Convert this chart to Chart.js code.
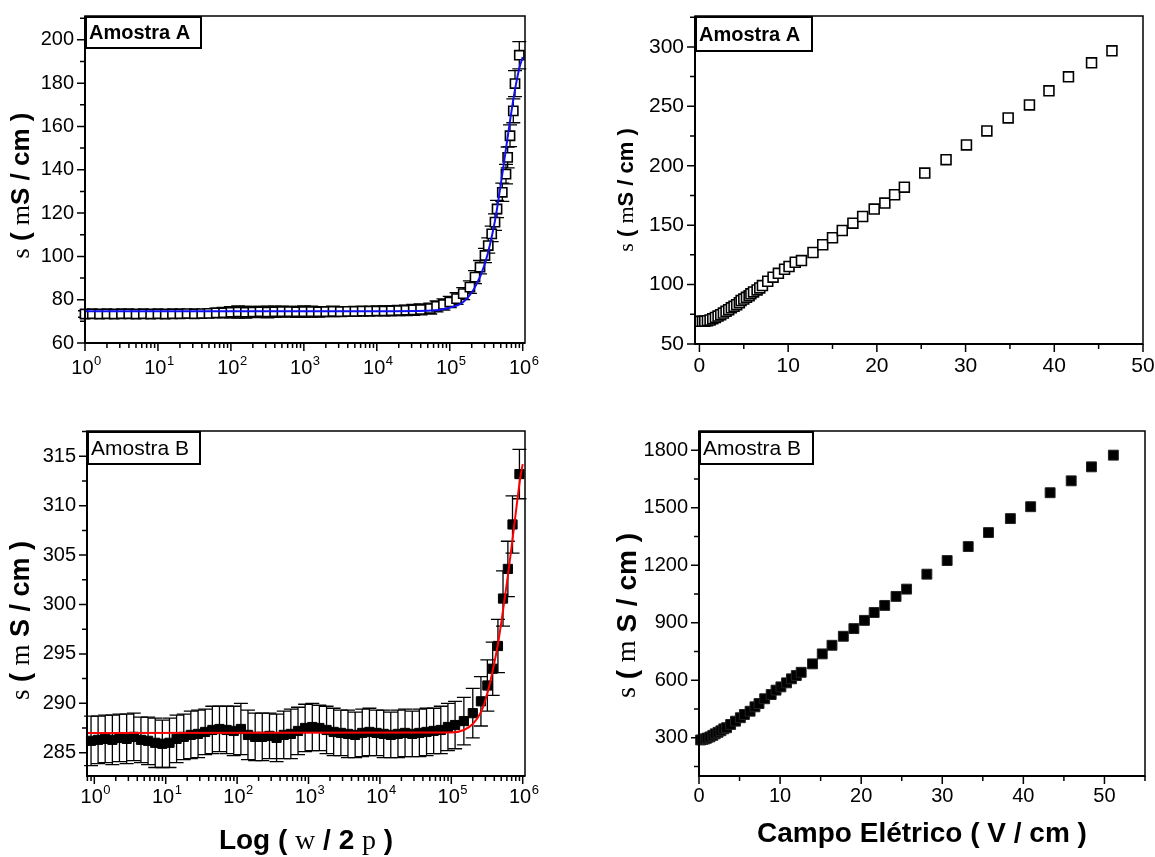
<!DOCTYPE html>
<html>
<head>
<meta charset="utf-8">
<script src="https://cdn.jsdelivr.net/npm/chart.js@4.4.1/dist/chart.umd.min.js"></script>
<style>
  body { margin: 0; background: #fff; width: 1155px; height: 857px; overflow: hidden; position: relative; }
  canvas { position: absolute; }
</style>
</head>
<body>
<canvas id="c1" width="560" height="420" style="left:0;top:0"></canvas>
<canvas id="c2" width="595" height="420" style="left:560px;top:0"></canvas>
<canvas id="c3" width="560" height="437" style="left:0;top:420px"></canvas>
<canvas id="c4" width="595" height="437" style="left:560px;top:420px"></canvas>
<script>
// Amostra A, conductivity vs frequency (Hz)
const freqA = [1, 1.26, 1.58, 2, 2.51, 3.16, 3.98, 5.01, 6.31, 7.94,
  10, 12.6, 15.8, 20, 25.1, 31.6, 39.8, 50.1, 63.1, 79.4,
  100, 126, 158, 200, 251, 316, 398, 501, 631, 794,
  1000, 1260, 1580, 2000, 2510, 3160, 3980, 5010, 6310, 7940,
  10000, 12600, 15800, 20000, 25100, 31600, 39800,
  54000, 66000, 82000, 100000, 124000, 153000, 189000, 222000, 260000, 304000,
  337000, 376000, 417000, 445000, 525000, 590000, 622000, 670000, 743000, 784000, 898000];
const sigmaA = [73.4, 73.5, 73.4, 73.5, 73.4, 73.5, 73.5, 73.4, 73.5, 73.4,
  73.5, 73.4, 73.5, 73.5, 73.6, 73.5, 73.6, 73.7, 73.9, 74.0,
  74.2, 74.3, 74.2, 74.3, 74.4, 74.3, 74.4, 74.5, 74.5, 74.4,
  74.5, 74.5, 74.4, 74.5, 74.6, 74.5, 74.6, 74.6, 74.7, 74.7,
  74.8, 74.8, 74.9, 75.0, 75.1, 75.3, 75.5,
  75.9, 76.9, 77.8, 78.9, 80.5, 82.8, 85.8, 90.4, 95.0, 100.4,
  105.0, 110.4, 115.8, 121.9, 129.6, 138.0, 145.7, 155.7, 167.2, 179.8, 192.9];
const errA = [1.5, 1.4, 1.5, 1.6, 1.5, 1.4, 1.5, 1.6, 1.5, 1.5,
  1.6, 1.5, 1.4, 1.5, 1.6, 1.7, 1.8, 2.0, 2.2, 2.4,
  2.6, 2.8, 2.7, 2.6, 2.5, 2.7, 2.6, 2.5, 2.4, 2.5,
  2.6, 2.5, 2.4, 2.3, 2.4, 2.3, 2.2, 2.3, 2.2, 2.2,
  2.2, 2.3, 2.3, 2.4, 2.4, 2.5, 2.5,
  2.5, 2.5, 2.6, 2.6, 2.7, 2.8, 2.9, 3.0, 3.1, 3.3,
  3.5, 3.6, 3.8, 4.0, 4.2, 4.5, 4.8, 5.0, 5.5, 6.0, 6.3];
const fitFreqA = [1, 10000, 50000, 100000, 153000, 222000, 304000, 417000, 525000, 670000, 784000, 900000, 1000000];
const fitSigmaA = [74.7, 74.7, 74.9, 76.3, 78.9, 85.8, 96.7, 116.5, 138.0, 162.6, 177.0, 187.0, 192.0];

// Amostra B, conductivity vs frequency (Hz)
const freqB = [0.9, 1.13, 1.42, 1.79, 2.25, 2.84, 3.57, 4.5, 5.66, 7.13, 8.97,
  11.3, 14.2, 17.9, 22.5, 28.4, 35.7, 45, 56.6, 71.3, 89.7,
  113, 142, 179, 225, 284, 357, 450, 566, 713, 897,
  1130, 1420, 1790, 2250, 2840, 3570, 4500, 5660, 7130, 8970,
  11300, 14200, 17900, 22500, 28400, 35700, 45000, 56600, 71300, 89700,
  113000, 150000, 200000, 260000, 320000, 380000, 450000, 530000, 620000, 720000, 900000];
const sigmaB = [286.2, 286.3, 286.4, 286.3, 286.5, 286.4, 286.6, 286.3, 286.2, 286.0, 285.9,
  286.0, 286.4, 286.6, 286.8, 286.9, 287.1, 287.3, 287.4, 287.3, 287.2,
  287.4, 286.8, 286.6, 286.6, 286.7, 286.5, 286.8, 286.9, 287.2, 287.5,
  287.6, 287.5, 287.3, 287.1, 287.0, 286.9, 286.8, 287.0, 287.1, 287.0,
  286.9, 286.8, 286.9, 287.0, 286.9, 287.0, 287.1, 287.2, 287.3, 287.6,
  287.8, 288.2, 289.0, 290.2, 291.8, 293.5, 295.8, 300.6, 303.6, 308.1, 313.2];
const errB = [2.5, 2.4, 2.4, 2.5, 2.4, 2.5, 2.4, 2.3, 2.4, 2.5, 2.4,
  2.5, 2.4, 2.3, 2.4, 2.4, 2.3, 2.4, 2.3, 2.4, 2.5,
  2.6, 2.5, 2.4, 2.4, 2.3, 2.4, 2.4, 2.5, 2.4, 2.4,
  2.4, 2.3, 2.4, 2.4, 2.3, 2.4, 2.3, 2.4, 2.4, 2.3,
  2.4, 2.3, 2.4, 2.4, 2.3, 2.4, 2.4, 2.3, 2.4, 2.4,
  2.4, 2.4, 2.5, 2.5, 2.6, 2.7, 2.7, 2.8, 2.8, 2.9, 2.5];
const fitFreqB = [0.79, 100000, 150000, 200000, 260000, 320000, 380000, 450000, 530000, 620000, 720000, 820000, 920000, 1000000];
const fitSigmaB = [287.0, 287.05, 287.3, 287.9, 289.1, 291.0, 293.3, 296.0, 299.4, 302.9, 306.6, 309.9, 312.7, 314.2];

// conductivity vs electric field (V/cm)
const fieldA = [0.1, 0.35, 0.6, 0.9, 1.2, 1.5, 1.8, 2.1, 2.4, 2.7,
  3.0, 3.3, 3.6, 3.9, 4.2, 4.5, 4.7, 5.0, 5.3, 5.6,
  5.8, 6.1, 6.5, 6.8, 7.1, 7.7, 8.3, 8.9, 9.6, 10.1,
  10.8, 11.5, 12.8, 13.9, 15.0, 16.1, 17.3, 18.4, 19.7, 20.9,
  22.0, 23.1, 25.4, 27.8, 30.1, 32.4, 34.8, 37.2, 39.4, 41.6, 44.2, 46.5];
const sigmaFieldA = [69.1, 69.1, 69.2, 69.6, 70.2, 71.2, 72.4, 73.5, 74.7, 76.0,
  77.5, 78.9, 80.4, 81.7, 83.1, 84.8, 86.5, 87.8, 89.3, 90.7,
  92.2, 93.8, 95.5, 97.2, 99.2, 102.8, 106.2, 109.5, 112.9, 115.2,
  118.8, 120.2, 127.0, 133.5, 139.4, 145.5, 151.7, 157.3, 163.5, 168.6,
  175.6, 182.0, 193.8, 205.1, 217.5, 229.3, 240.2, 251.2, 263.0, 274.8, 286.6, 296.7];
const fieldB = [0.2, 0.5, 0.76, 1.0, 1.35, 1.7, 2.0, 2.35, 2.7, 3.05,
  3.4, 3.9, 4.5, 5.1, 5.6, 6.3, 6.9, 7.4, 8.1, 8.9,
  9.5, 10.1, 10.8, 11.4, 12.0, 12.6, 14.0, 15.2, 16.4, 17.8,
  19.1, 20.4, 21.6, 22.9, 24.3, 25.6, 28.1, 30.6, 33.2, 35.7,
  38.4, 40.9, 43.3, 45.9, 48.4, 51.1];
const sigmaFieldB = [288, 291, 294, 298, 304, 312, 320, 328, 336, 346,
  352, 369, 386, 404, 421, 438, 461, 478, 503, 525,
  548, 565, 586, 607, 624, 641, 685, 737, 782, 829,
  869, 912, 953, 990, 1037, 1075, 1153, 1224, 1297, 1370,
  1443, 1505, 1578, 1640, 1713, 1774];

// tick labels
const freqTicks = [1, 10, 100, 1000, 10000, 100000, 1000000];
const freqExponents = ['0', '1', '2', '3', '4', '5', '6'];
const yTicksA = [60, 80, 100, 120, 140, 160, 180, 200];
const yTicksB = [285, 290, 295, 300, 305, 310, 315];
const fieldTicks = [0, 10, 20, 30, 40, 50];
const yTicksFieldA = [50, 100, 150, 200, 250, 300];
const yTicksFieldB = [300, 600, 900, 1200, 1500, 1800];

Chart.defaults.font.family = '"Liberation Sans", Arial, Helvetica, sans-serif';
Chart.defaults.font.size = 20;
Chart.defaults.color = '#000';

const SANS = '"Liberation Sans", Arial, sans-serif';
const SERIF = '"Liberation Serif", "Times New Roman", serif';

function pts(xs, ys) {
  return xs.map((x, i) => ({ x: x, y: ys[i] }));
}

function axis(type, min, max, ticks, exps, size, pad, fontSize) {
  return {
    type: type, min: min, max: max,
    grid: { display: false, drawTicks: false },
    border: { display: false },
    afterBuildTicks: (s) => { s.ticks = ticks.map(v => ({ value: v })); },
    afterFit: (s) => {
      if (s.isHorizontal()) s.height = size; else s.width = size;
      s.paddingLeft = 0; s.paddingRight = 0; s.paddingTop = 0; s.paddingBottom = 0;
    },
    ticks: {
      // powers of ten are drawn by panelDeco with a real superscript
      display: !exps,
      autoSkip: false, maxRotation: 0, minRotation: 0, padding: pad,
      font: { size: fontSize },
      callback: (v, i) => exps ? '10^' + exps[i] : String(v)
    }
  };
}

function segFont(seg, size) {
  return seg[1] === 'b' ? 'bold ' + size + 'px ' + SANS : size + 'px ' + SERIF;
}

function drawSegs(ctx, segs, size, cx, cy) {
  let w = 0;
  segs.forEach(s => { ctx.font = segFont(s, size); w += ctx.measureText(s[0]).width; });
  let x = cx - w / 2;
  segs.forEach(s => {
    ctx.font = segFont(s, size);
    ctx.fillText(s[0], x, cy);
    x += ctx.measureText(s[0]).width;
  });
}

function minorValues(s, step) {
  const out = [];
  if (step === 'log') {
    for (let n = Math.floor(Math.log10(s.min)); n <= Math.ceil(Math.log10(s.max)); n++) {
      for (let k = 2; k <= 9; k++) {
        const v = k * Math.pow(10, n);
        if (v >= s.min && v <= s.max) out.push(v);
      }
    }
  } else {
    for (let v = Math.ceil(s.min / step) * step; v <= s.max + 1e-9; v += step) out.push(v);
  }
  return out;
}

const panelDeco = {
  id: 'panelDeco',
  beforeDatasetsDraw(chart, args, opts) {
    if (!opts.err) return;
    const ctx = chart.ctx, xs = chart.scales.x, ys = chart.scales.y;
    const data = chart.data.datasets[1].data;
    ctx.save();
    ctx.strokeStyle = '#000';
    ctx.lineWidth = 1.3;
    data.forEach((p, i) => {
      const e = opts.err[i];
      const px = xs.getPixelForValue(p.x);
      const y1 = ys.getPixelForValue(p.y + e), y2 = ys.getPixelForValue(p.y - e);
      ctx.beginPath();
      ctx.moveTo(px, y1); ctx.lineTo(px, y2);
      ctx.moveTo(px - opts.cap, y1); ctx.lineTo(px + opts.cap, y1);
      ctx.moveTo(px - opts.cap, y2); ctx.lineTo(px + opts.cap, y2);
      ctx.stroke();
    });
    ctx.restore();
  },
  afterDraw(chart, args, opts) {
    const ctx = chart.ctx, a = chart.chartArea;
    const xs = chart.scales.x, ys = chart.scales.y;
    ctx.save();
    ctx.strokeStyle = '#000';
    ctx.fillStyle = '#000';
    // frame
    ctx.lineWidth = 1.5;
    ctx.strokeRect(a.left, a.top, a.right - a.left, a.bottom - a.top);
    ctx.lineWidth = 2;
    ctx.beginPath();
    ctx.moveTo(a.left, a.top); ctx.lineTo(a.left, a.bottom); ctx.lineTo(a.right, a.bottom);
    ctx.stroke();
    // ticks
    ctx.lineWidth = 1.5;
    ctx.beginPath();
    xs.ticks.forEach(t => { const p = xs.getPixelForValue(t.value); ctx.moveTo(p, a.bottom); ctx.lineTo(p, a.bottom + 8); });
    minorValues(xs, opts.xMinor).forEach(v => { const p = xs.getPixelForValue(v); ctx.moveTo(p, a.bottom); ctx.lineTo(p, a.bottom + 5); });
    ys.ticks.forEach(t => { const p = ys.getPixelForValue(t.value); ctx.moveTo(a.left - 8, p); ctx.lineTo(a.left, p); });
    minorValues(ys, opts.yMinor).forEach(v => { const p = ys.getPixelForValue(v); ctx.moveTo(a.left - 5, p); ctx.lineTo(a.left, p); });
    ctx.stroke();
    // log tick labels: 10 with superscript exponent
    if (opts.exps) {
      const base = a.bottom + opts.expDy;
      ctx.textBaseline = 'alphabetic';
      ctx.textAlign = 'left';
      xs.ticks.forEach((t, i) => {
        const p = xs.getPixelForValue(t.value);
        ctx.font = '20px ' + SANS;
        const w1 = ctx.measureText('10').width;
        ctx.font = '13px ' + SANS;
        const w2 = ctx.measureText(opts.exps[i]).width;
        const x0 = p - (w1 + w2) / 2 + 1;
        ctx.font = '20px ' + SANS;
        ctx.fillText('10', x0, base);
        ctx.font = '13px ' + SANS;
        ctx.fillText(opts.exps[i], x0 + w1 + 0.5, base - 9);
      });
    }
    // sample label box
    const b = opts.box;
    ctx.fillStyle = '#fff';
    ctx.fillRect(a.left + 1, a.top + 1, b.w, b.h);
    ctx.lineWidth = 2;
    ctx.strokeRect(a.left + 1, a.top + 1, b.w, b.h);
    ctx.fillStyle = '#000';
    ctx.font = (b.bold ? 'bold ' : '') + b.size + 'px ' + SANS;
    ctx.textBaseline = 'middle';
    ctx.textAlign = 'left';
    ctx.fillText(b.text, a.left + 4, a.top + 1 + b.h / 2 + 1);
    // axis titles
    const t = opts.yTitle;
    ctx.save();
    ctx.translate(a.left - t.dx, (a.top + a.bottom) / 2 + t.dy);
    ctx.rotate(-Math.PI / 2);
    drawSegs(ctx, t.segs, t.size, 0, 0);
    ctx.restore();
    if (opts.xTitle) {
      const x = opts.xTitle;
      ctx.textBaseline = 'alphabetic';
      drawSegs(ctx, x.segs, x.size, (a.left + a.right) / 2, a.bottom + x.dy);
    }
    ctx.restore();
  }
};

const sigmaTitleA = [['s', 'r'], [' ( ', 'b'], ['m', 'r'], ['S / cm )', 'b']];
const sigmaTitleB = [['s', 'r'], [' ( ', 'b'], ['m', 'r'], [' S / cm )', 'b']];

function makeChart(id, cfg) {
  return new Chart(document.getElementById(id), {
    type: 'scatter',
    data: { datasets: cfg.datasets },
    options: {
      responsive: false,
      animation: false,
      devicePixelRatio: 1,
      layout: { padding: cfg.padding },
      scales: { x: cfg.x, y: cfg.y },
      plugins: { legend: { display: false }, tooltip: { enabled: false }, panelDeco: cfg.deco }
    },
    plugins: [panelDeco]
  });
}

makeChart('c1', {
  padding: { top: 16, right: 35, left: 0, bottom: 0 },
  x: axis('logarithmic', 1, 1075000, freqTicks, freqExponents, 77, 10, 20),
  y: axis('linear', 60, 211, yTicksA, null, 85, 11, 20),
  datasets: [
    { data: pts(fitFreqA, fitSigmaA), showLine: true, borderColor: '#1010f0', borderWidth: 2,
      pointRadius: 0, cubicInterpolationMode: 'monotone', order: 0 },
    { data: pts(freqA, sigmaA), pointStyle: 'rect', pointRadius: 6.5, backgroundColor: '#fff',
      borderColor: '#000', borderWidth: 1.6, clip: false, order: 1 }
  ],
  deco: { err: errA, cap: 7, xMinor: 'log', yMinor: 10, exps: freqExponents, expDy: 31,
    box: { text: 'Amostra A', bold: true, size: 20, w: 115, h: 31 },
    yTitle: { segs: sigmaTitleA, size: 26, dx: 63, dy: 6 } }
});

makeChart('c2', {
  padding: { top: 16, right: 12, left: 0, bottom: 0 },
  x: axis('linear', -0.5, 50, fieldTicks, null, 76, 10, 21),
  y: axis('linear', 50, 326, yTicksFieldA, null, 135, 11, 21),
  datasets: [
    { data: [], order: 0 },
    { data: pts(fieldA, sigmaFieldA), pointStyle: 'rect', pointRadius: 7, backgroundColor: '#fff',
      borderColor: '#000', borderWidth: 1.6, clip: false, order: 1 }
  ],
  deco: { xMinor: 5, yMinor: 25,
    box: { text: 'Amostra A', bold: true, size: 20, w: 116, h: 34 },
    yTitle: { segs: sigmaTitleA, size: 22, dx: 68, dy: 10 } }
});

makeChart('c3', {
  padding: { top: 11, right: 35, left: 0, bottom: 0 },
  x: axis('logarithmic', 0.79, 1077000, freqTicks, freqExponents, 81, 8, 20),
  y: axis('linear', 282.64, 317.56, yTicksB, null, 87, 11, 20),
  datasets: [
    { data: pts(fitFreqB, fitSigmaB), showLine: true, borderColor: '#ff0000', borderWidth: 2,
      pointRadius: 0, cubicInterpolationMode: 'monotone', order: 0 },
    { data: pts(freqB, sigmaB), pointStyle: 'rect', pointRadius: 6.5, backgroundColor: '#000',
      borderColor: '#000', borderWidth: 1, clip: false, order: 1 }
  ],
  deco: { err: errB, cap: 7, xMinor: 'log', yMinor: 2.5, exps: freqExponents, expDy: 27,
    box: { text: 'Amostra B', bold: false, size: 21, w: 112, h: 32 },
    yTitle: { segs: sigmaTitleB, size: 27, dx: 65, dy: 17 },
    xTitle: { segs: [['Log ( ', 'b'], ['w', 'r'], [' / 2 ', 'b'], ['p', 'r'], [' )', 'b']], size: 28, dy: 73 } }
});

makeChart('c4', {
  padding: { top: 11, right: 10, left: 0, bottom: 0 },
  x: axis('linear', 0, 55, fieldTicks, null, 81, 8, 20),
  y: axis('linear', 100, 1900, yTicksFieldB, null, 139, 11, 20),
  datasets: [
    { data: [], order: 0 },
    { data: pts(fieldB, sigmaFieldB), pointStyle: 'rect', pointRadius: 7, backgroundColor: '#000',
      borderColor: '#222', borderWidth: 1, clip: false, order: 1 }
  ],
  deco: { xMinor: 5, yMinor: 150,
    box: { text: 'Amostra B', bold: false, size: 21, w: 113, h: 32 },
    yTitle: { segs: sigmaTitleB, size: 28, dx: 71, dy: 12 },
    xTitle: { segs: [['Campo Elétrico ( V / cm )', 'b']], size: 28, dy: 66 } }
});
</script>
</body>
</html>
